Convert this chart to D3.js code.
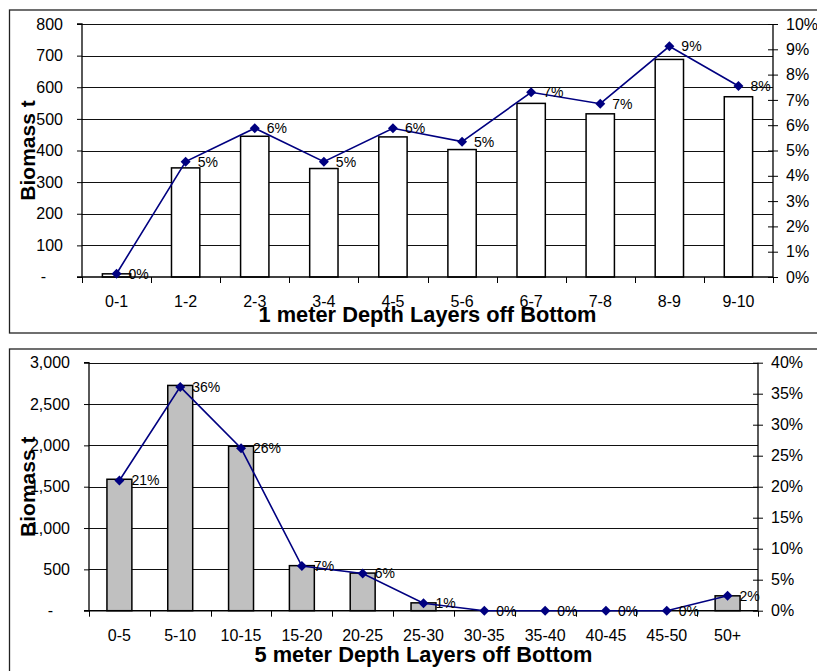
<!DOCTYPE html>
<html>
<head>
<meta charset="utf-8">
<script src="https://cdn.jsdelivr.net/npm/d3@7"></script>
<style>
  html, body { margin: 0; padding: 0; background: #fff; }
  svg { display: block; }
  text { font-family: "Liberation Sans", Arial, sans-serif; fill: #000; }
</style>
</head>
<body>
<svg id="chart" width="817" height="671"></svg>
<script>
// ---- Data: 1 meter layers ----
const topCategories = ["0-1","1-2","2-3","3-4","4-5","5-6","6-7","7-8","8-9","9-10"];
const topBiomass = [10, 345, 445, 343, 443, 403, 549, 516, 688, 570];
const topPercent = [0.13, 4.56, 5.88, 4.56, 5.88, 5.35, 7.30, 6.85, 9.12, 7.55];
const topLeftTicks = [0, 100, 200, 300, 400, 500, 600, 700, 800];
const topRightTicks = [0,1,2,3,4,5,6,7,8,9,10];

// ---- Data: 5 meter layers ----
const botCategories = ["0-5","5-10","10-15","15-20","20-25","25-30","30-35","35-40","40-45","45-50","50+"];
const botBiomass = [1590, 2725, 1990, 545, 455, 95, 0, 0, 0, 0, 180];
const botPercent = [21.0, 36.1, 26.2, 7.2, 6.0, 1.2, 0, 0, 0, 0, 2.4];
const botLeftTicks = [0, 500, 1000, 1500, 2000, 2500, 3000];
const botRightTicks = [0,5,10,15,20,25,30,35,40];

const svg = d3.select("#chart");

function drawPanel(cfg) {
  const g = svg.append("g");
  // panel border
  g.append("rect")
    .attr("x", cfg.box[0]).attr("y", cfg.box[1])
    .attr("width", cfg.box[2]).attr("height", cfg.box[3])
    .attr("fill", "none").attr("stroke", "#222").attr("stroke-width", 1.3);

  const x = d3.scaleBand().domain(cfg.categories).range([cfg.left, cfg.right]);
  const y = d3.scaleLinear().domain([0, d3.max(cfg.leftTicks)]).range([cfg.bottom, cfg.top]);
  const y2 = d3.scaleLinear().domain([0, d3.max(cfg.rightTicks)]).range([cfg.bottom, cfg.top]);

  // gridlines
  g.append("g").selectAll("line").data(cfg.leftTicks.filter(d => d > 0)).join("line")
    .attr("x1", cfg.left).attr("x2", cfg.right)
    .attr("y1", d => Math.round(y(d)) + 0.5).attr("y2", d => Math.round(y(d)) + 0.5)
    .attr("stroke", "#111").attr("stroke-width", 1);

  // bars
  const bw = x.bandwidth() * 0.41;
  g.append("g").selectAll("rect").data(cfg.biomass).join("rect")
    .attr("x", (d, i) => x(cfg.categories[i]) + (x.bandwidth() - bw) / 2)
    .attr("y", d => y(d))
    .attr("width", bw)
    .attr("height", d => cfg.bottom - y(d))
    .attr("fill", cfg.barFill).attr("stroke", "#000").attr("stroke-width", 1.5);

  // left axis
  const leftAxis = d3.axisLeft(y).tickValues(cfg.leftTicks).tickSize(5).tickPadding(14)
    .tickFormat(d => d === 0 ? "" : d3.format(",")(d));
  const la = g.append("g").attr("transform", `translate(${cfg.left},0)`).call(leftAxis);
  la.select(".domain").attr("stroke", "#000").attr("stroke-width", 1.3).attr("d", `M-5,${cfg.top}H0V${cfg.bottom}H-5`);
  la.selectAll(".tick line").attr("stroke", "#000");
  la.selectAll(".tick text").attr("font-size", 16).attr("font-family", "Liberation Sans, Arial, sans-serif");
  // zero dash
  g.append("text").attr("x", cfg.left - 36).attr("y", y(0)).attr("dy", "0.32em")
    .attr("text-anchor", "end").attr("font-size", 16).text("-");

  // right axis
  const rightAxis = d3.axisRight(y2).tickValues(cfg.rightTicks).tickSize(5).tickPadding(8)
    .tickFormat(d => d + "%");
  const ra = g.append("g").attr("transform", `translate(${cfg.right},0)`).call(rightAxis);
  ra.select(".domain").attr("stroke", "#000").attr("stroke-width", 1.3).attr("d", `M0,${cfg.top}V${cfg.bottom}`);
  ra.selectAll(".tick line").attr("stroke", "#000").attr("x1", -5).attr("x2", 5);
  ra.selectAll(".tick text").attr("font-size", 16).attr("font-family", "Liberation Sans, Arial, sans-serif");

  // bottom axis: ticks at band boundaries
  const bnd = cfg.categories.map(c => x(c)).concat([cfg.right]);
  g.append("line").attr("x1", cfg.left).attr("x2", cfg.right)
    .attr("y1", cfg.bottom).attr("y2", cfg.bottom).attr("stroke", "#000").attr("stroke-width", 1.5);
  g.append("g").selectAll("line").data(bnd).join("line")
    .attr("x1", d => Math.round(d) + 0.5).attr("x2", d => Math.round(d) + 0.5)
    .attr("y1", cfg.bottom).attr("y2", cfg.bottom + 6)
    .attr("stroke", "#000").attr("stroke-width", 1);
  g.append("g").selectAll("text").data(cfg.categories).join("text")
    .attr("x", d => x(d) + x.bandwidth() / 2).attr("y", cfg.bottom + 30)
    .attr("text-anchor", "middle").attr("font-size", 16).text(d => d);

  // line + markers
  const pts = cfg.percent.map((p, i) => [x(cfg.categories[i]) + x.bandwidth() / 2, y2(p)]);
  g.append("path").attr("d", d3.line()(pts))
    .attr("fill", "none").attr("stroke", "#000080").attr("stroke-width", 1.6);
  g.append("g").selectAll("path").data(pts).join("path")
    .attr("transform", d => `translate(${d[0]},${d[1]})`)
    .attr("d", "M0,-5L5,0L0,5L-5,0Z").attr("fill", "#000080");
  g.append("g").selectAll("text").data(cfg.percent).join("text")
    .attr("x", (d, i) => pts[i][0] + 12).attr("y", (d, i) => pts[i][1]).attr("dy", "0.35em")
    .attr("font-size", 14).text(d => d3.format(".0%")(d / 100));

  // axis titles
  g.append("text").attr("x", (cfg.left + cfg.right) / 2).attr("y", cfg.xTitleY)
    .attr("text-anchor", "middle").attr("font-size", 21.8).attr("font-weight", "bold").text(cfg.xTitle);
  g.append("text").attr("transform", `translate(35,${(cfg.top + cfg.bottom) / 2}) rotate(-90)`)
    .attr("text-anchor", "middle").attr("font-size", 21).attr("font-weight", "bold").text("Biomass t");
}

drawPanel({
  box: [9.5, 10, 820, 323],
  left: 82, right: 773, top: 24, bottom: 277,
  categories: topCategories, biomass: topBiomass, percent: topPercent,
  leftTicks: topLeftTicks, rightTicks: topRightTicks,
  barFill: "#ffffff",
  xTitle: "1 meter Depth Layers off Bottom", xTitleY: 321.5
});

drawPanel({
  box: [9.5, 349, 820, 340],
  left: 89, right: 758, top: 362.7, bottom: 610.7,
  categories: botCategories, biomass: botBiomass, percent: botPercent,
  leftTicks: botLeftTicks, rightTicks: botRightTicks,
  barFill: "#c0c0c0",
  xTitle: "5 meter Depth Layers off Bottom", xTitleY: 661.5
});
</script>
</body>
</html>
